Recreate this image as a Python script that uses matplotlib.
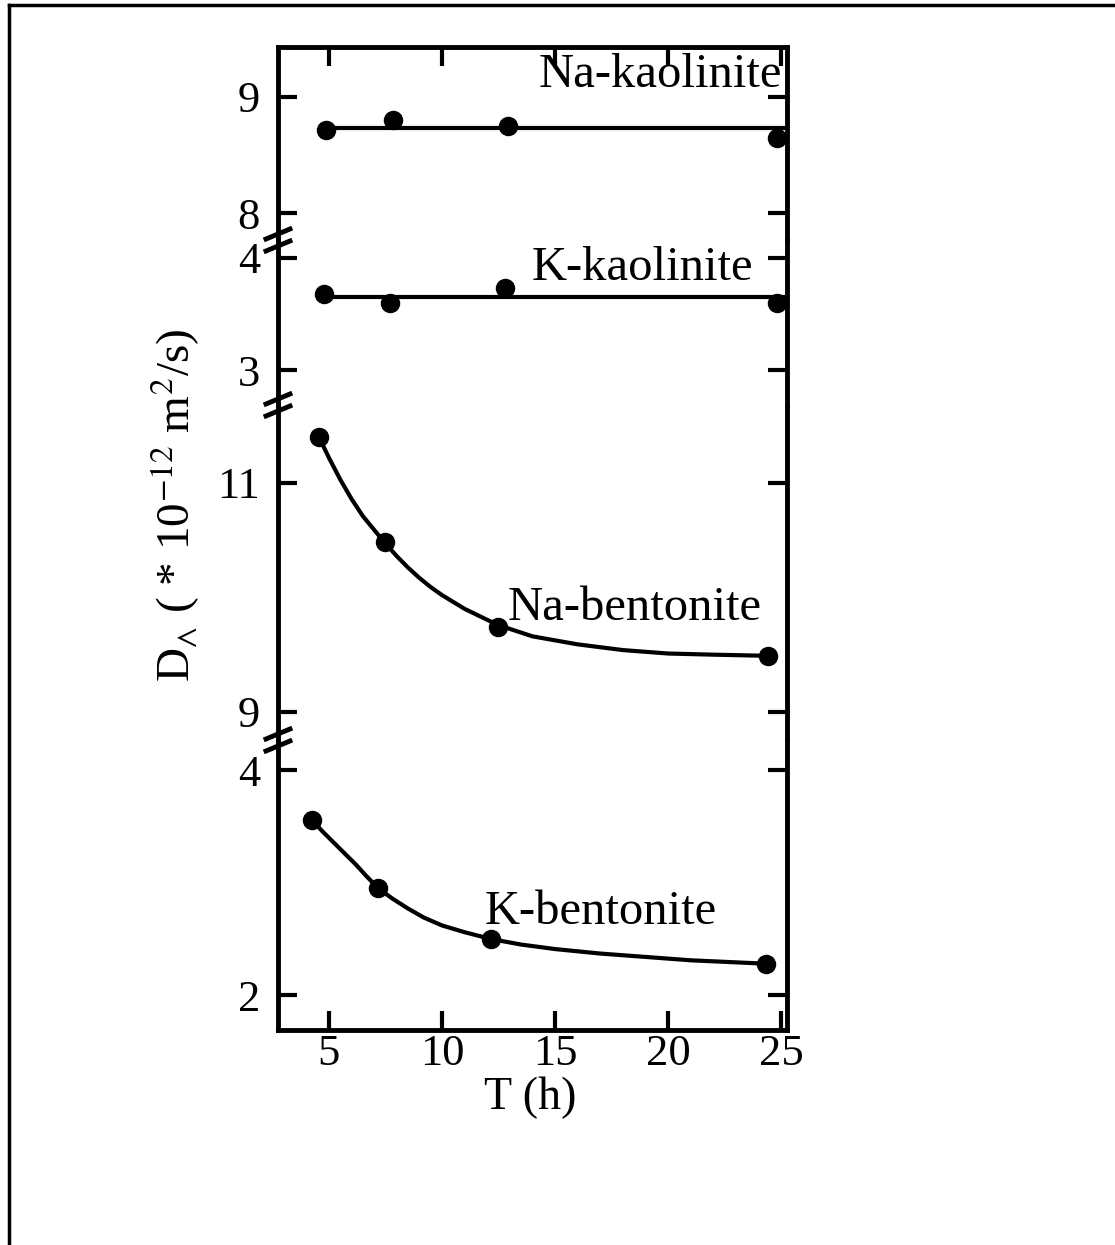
import matplotlib
matplotlib.use("Agg")
import matplotlib.pyplot as plt
from matplotlib.lines import Line2D

plt.rcParams['font.family'] = ['Liberation Serif', 'DejaVu Serif']
plt.rcParams['mathtext.fontset'] = 'stix'

# ---- data ----
# Na-kaolinite
na_kao_t = [4.87, 7.85, 12.9, 24.8]
na_kao_d = [8.72, 8.80, 8.75, 8.65]
na_kao_fit = 8.73
# K-kaolinite
k_kao_t = [4.78, 7.68, 12.8, 24.8]
k_kao_d = [3.68, 3.60, 3.73, 3.60]
k_kao_fit = 3.65
# Na-bentonite (points + drawn curve)
na_ben_t = [4.56, 7.46, 12.46, 24.4]
na_ben_d = [11.40, 10.48, 9.74, 9.49]
na_ben_curve_t = [4.56, 5.0, 5.5, 6.0, 6.5, 7.0, 7.46, 8.0, 8.5, 9.0, 9.5, 10.0, 11.0,
                  12.46, 14.0, 16.0, 18.0, 20.0, 22.0, 24.4]
na_ben_curve_d = [11.40, 11.22, 11.03, 10.86, 10.71, 10.59, 10.48, 10.36, 10.26, 10.17,
                  10.09, 10.02, 9.90, 9.76, 9.66, 9.59, 9.54, 9.51, 9.50, 9.49]
# K-bentonite (points + drawn curve)
k_ben_t = [4.25, 7.19, 12.15, 24.3]
k_ben_d = [3.56, 2.95, 2.50, 2.28]
k_ben_curve_t = [4.25, 4.7, 5.2, 5.7, 6.2, 6.7, 7.19, 7.8, 8.5, 9.2, 10.0, 11.0, 12.15,
                 13.5, 15.0, 17.0, 19.0, 21.0, 24.3]
k_ben_curve_d = [3.56, 3.46, 3.36, 3.26, 3.16, 3.05, 2.95, 2.86, 2.77, 2.69, 2.62, 2.56,
                 2.50, 2.45, 2.41, 2.37, 2.34, 2.31, 2.28]

x_ticks = [5, 10, 15, 20, 25]
labels = ['Na-kaolinite', 'K-kaolinite', 'Na-bentonite', 'K-bentonite']

W, H = 1115, 1245
fig = plt.figure(figsize=(W / 100, H / 100), dpi=100)

# pixel layout of the broken axis (top to bottom)
x_left, x_right = 278, 787
bounds = [47, 240, 405, 740, 1030]
ylims = [(7.77, 9.43), (2.69, 4.16), (8.755, 11.68), (1.69, 4.27)]
yticks = [[8, 9], [3, 4], [9, 11], [2, 4]]
xlim = (2.75, 25.25)

axes = []
for i in range(4):
    top, bot = bounds[i], bounds[i + 1]
    ax = fig.add_axes([x_left / W, 1 - bot / H, (x_right - x_left) / W, (bot - top) / H])
    ax.set_xlim(*xlim)
    ax.set_ylim(*ylims[i])
    ax.set_yticks(yticks[i])
    ax.set_xticks(x_ticks)
    for s in ax.spines.values():
        s.set_linewidth(3.5)
    ax.tick_params(axis='y', direction='in', left=True, right=True, length=14,
                   width=3, labelsize=32, pad=13)
    ax.tick_params(axis='x', direction='in', length=14, width=3, labelsize=32, pad=3,
                   top=(i == 0), bottom=(i == 3), labelbottom=(i == 3), labeltop=False)
    if i > 0:
        ax.spines['top'].set_visible(False)
    if i < 3:
        ax.spines['bottom'].set_visible(False)
    ax.patch.set_alpha(0)
    axes.append(ax)

mk = dict(marker='o', markersize=13, color='black', linestyle='none', clip_on=False)
lw = 3

ax = axes[0]
ax.plot([na_kao_t[0], xlim[1]], [na_kao_fit, na_kao_fit], color='black', lw=lw)
ax.plot(na_kao_t, na_kao_d, **mk)
ax.text(19.65, 9.19, labels[0], fontsize=35, ha='center', va='center')

ax = axes[1]
ax.plot([k_kao_t[0], xlim[1]], [k_kao_fit, k_kao_fit], color='black', lw=lw)
ax.plot(k_kao_t, k_kao_d, **mk)
ax.text(18.86, 3.91, labels[1], fontsize=35, ha='center', va='center')

ax = axes[2]
ax.plot(na_ben_curve_t, na_ben_curve_d, color='black', lw=lw, solid_joinstyle='round')
ax.plot(na_ben_t, na_ben_d, **mk)
ax.text(18.5, 9.91, labels[2], fontsize=35, ha='center', va='center')

ax = axes[3]
ax.plot(k_ben_curve_t, k_ben_curve_d, color='black', lw=lw, solid_joinstyle='round')
ax.plot(k_ben_t, k_ben_d, **mk)
ax.text(17.0, 2.74, labels[3], fontsize=35, ha='center', va='center')


def px(x, y):
    return x / W, 1 - y / H


# break marks on the left axis
for yb in bounds[1:4]:
    for dy in (-6, 6):
        x0, y0 = px(x_left - 12, yb + dy + 5)
        x1, y1 = px(x_left + 12, yb + dy - 5)
        fig.add_artist(Line2D([x0, x1], [y0, y1], color='black', lw=3.5))

fig.text(175 / W, 1 - 505 / H, r'D$_{\wedge}$ ( * 10$^{-12}$ m$^{2}$/s)', rotation=90,
         fontsize=34, ha='center', va='center')
fig.text(530 / W, 1 - 1098 / H, 'T (h)', fontsize=33, ha='center', va='center')

# scanned frame: top and left edges only
fig.add_artist(Line2D([9 / W, 1.0], [1 - 5 / H, 1 - 5 / H], color='black', lw=2.5))
fig.add_artist(Line2D([9 / W, 9 / W], [1 - 5 / H, 0.0], color='black', lw=2.5))

fig.savefig('out.png', dpi=100)
